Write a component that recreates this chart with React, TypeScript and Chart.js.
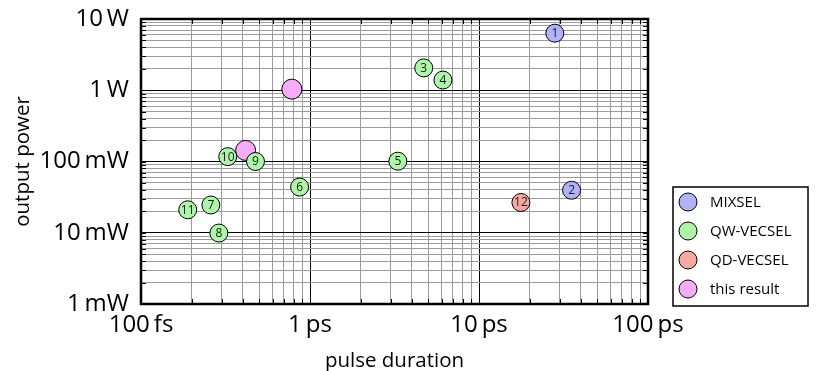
import React, { useEffect, useRef } from 'react';
import { Chart, registerables } from 'chart.js';

Chart.register(...registerables);

const FONT = '"Open Sans", "Noto Sans", sans-serif';

// Series names & colours
const seriesNames = ['MIXSEL', 'QW-VECSEL', 'QD-VECSEL', 'this result'];
const seriesColors = ['#b0b3f8', '#aef5a9', '#f5a9a2', '#f8acf8'];

// Data: pulse duration (ps) and output power (mW), with reference numbers
const mixselDurationPs = [28.1, 35.3];
const mixselPowerMw = [6320, 39.5];
const mixselRefs = ['1', '2'];

const qwDurationPs = [4.71, 6.12, 3.31, 0.868, 0.259, 0.289, 0.476, 0.326, 0.189];
const qwPowerMw = [2060, 1390, 101, 43.8, 24.5, 9.9, 100, 117, 21];
const qwRefs = ['3', '4', '5', '6', '7', '8', '9', '10', '11'];

const qdDurationPs = [17.7];
const qdPowerMw = [26.6];
const qdRefs = ['12'];

const thisDurationPs = [0.781, 0.416];
const thisPowerMw = [1036, 143];
const thisRefs = ['', ''];

// Axis ticks
const xTickValues = [0.1, 1, 10, 100];
const xTickLabels = ['100\u2009fs', '1\u2009ps', '10\u2009ps', '100\u2009ps'];
const yTickValues = [1, 10, 100, 1000, 10000];
const yTickLabels = ['1\u2009mW', '10\u2009mW', '100\u2009mW', '1\u2009W', '10\u2009W'];

const minorSteps = [1, 2, 3, 4, 5, 6, 7, 8, 9];

function logGrid(decades: number[]): number[] {
  const out: number[] = [];
  for (let i = 0; i < decades.length - 1; i++) {
    for (const k of minorSteps) out.push(Number((k * decades[i]).toPrecision(6)));
  }
  out.push(decades[decades.length - 1]);
  return out;
}

function findIdx(list: number[], v: number): number {
  return list.findIndex((t) => Math.abs(Math.log10(t) - Math.log10(v)) < 1e-6);
}

function pts(xs: number[], ys: number[]) {
  return xs.map((x, i) => ({ x, y: ys[i] }));
}

const decorPlugin = {
  id: 'decor',
  afterDatasetsDraw(chart: any) {
    const ctx = chart.ctx;
    ctx.save();
    ctx.font = `12px ${FONT}`;
    ctx.textAlign = 'center';
    ctx.textBaseline = 'middle';
    ctx.fillStyle = '#1c1c1c';
    chart.data.datasets.forEach((ds: any, i: number) => {
      const meta = chart.getDatasetMeta(i);
      meta.data.forEach((el: any, j: number) => {
        const r = ds.refs?.[j];
        if (r) ctx.fillText(r, el.x, el.y + 0.5);
      });
    });
    ctx.restore();
  },
  afterDraw(chart: any) {
    const { ctx, chartArea: a, scales } = chart;
    ctx.save();
    // inward tick marks
    ctx.strokeStyle = '#000';
    ctx.lineWidth = 1;
    const L = 5;
    ctx.beginPath();
    scales.x.ticks.forEach((t: any) => {
      const px = Math.round(scales.x.getPixelForValue(t.value)) + 0.5;
      ctx.moveTo(px, a.top);
      ctx.lineTo(px, a.top + L);
      ctx.moveTo(px, a.bottom);
      ctx.lineTo(px, a.bottom - L);
    });
    scales.y.ticks.forEach((t: any) => {
      const py = Math.round(scales.y.getPixelForValue(t.value)) + 0.5;
      ctx.moveTo(a.left, py);
      ctx.lineTo(a.left + L, py);
      ctx.moveTo(a.right, py);
      ctx.lineTo(a.right - L, py);
    });
    ctx.stroke();
    // frame
    ctx.lineWidth = 2.5;
    ctx.strokeRect(a.left, a.top, a.right - a.left, a.bottom - a.top);

    // legend box
    const bx = a.right + 25;
    const by = 187;
    const bw = 135;
    const bh = 119;
    ctx.lineWidth = 1.5;
    ctx.strokeRect(bx, by, bw, bh);
    ctx.font = `15px ${FONT}`;
    ctx.textAlign = 'left';
    ctx.textBaseline = 'middle';
    chart.data.datasets.forEach((ds: any, i: number) => {
      const cy = by + 15 + i * 29;
      ctx.beginPath();
      ctx.arc(bx + 15, cy, 9, 0, Math.PI * 2);
      ctx.fillStyle = ds.backgroundColor;
      ctx.fill();
      ctx.lineWidth = 1;
      ctx.strokeStyle = '#000';
      ctx.stroke();
      ctx.fillStyle = '#000';
      ctx.fillText(ds.label, bx + 37, cy + 0.5);
    });
    ctx.restore();
  },
};

export default function App() {
  const ref = useRef<HTMLCanvasElement>(null);

  useEffect(() => {
    if (!ref.current) return;
    const xs = logGrid(xTickValues);
    const ys = logGrid(yTickValues);
    const sets = [
      { d: pts(mixselDurationPs, mixselPowerMw), refs: mixselRefs, r: 9 },
      { d: pts(qwDurationPs, qwPowerMw), refs: qwRefs, r: 9 },
      { d: pts(qdDurationPs, qdPowerMw), refs: qdRefs, r: 9 },
      { d: pts(thisDurationPs, thisPowerMw), refs: thisRefs, r: 10 },
    ];
    const chart = new Chart(ref.current, {
      type: 'scatter',
      data: {
        datasets: sets.map((s, i) => ({
          label: seriesNames[i],
          data: s.d,
          refs: s.refs,
          backgroundColor: seriesColors[i],
          borderColor: '#000',
          borderWidth: 1,
          pointRadius: s.r,
          pointHoverRadius: s.r,
        })) as any,
      },
      options: {
        responsive: false,
        animation: false,
        events: [],
        layout: { padding: { left: 0, right: 170, top: 19, bottom: 0 } },
        plugins: {
          legend: { display: false },
          tooltip: { enabled: false },
        },
        scales: {
          x: {
            type: 'logarithmic',
            min: 0.1,
            max: 100,
            afterBuildTicks: (scale: any) => {
              scale.ticks = xs.map((v) => ({ value: v }));
            },
            afterFit: (scale: any) => {
              scale.height = 67;
            },
            grid: {
              drawTicks: false,
              color: (c: any) => (findIdx(xTickValues, c.tick?.value ?? 1) >= 0 ? '#000' : '#9c9c9c'),
              lineWidth: 1,
            },
            border: { display: false },
            ticks: {
              autoSkip: false,
              maxRotation: 0,
              minRotation: 0,
              padding: 7,
              color: '#000',
              font: { family: FONT, size: 24 },
              callback: (v: any) => {
                const i = findIdx(xTickValues, Number(v));
                return i >= 0 ? xTickLabels[i] : '';
              },
            },
            title: {
              display: true,
              text: 'pulse duration',
              color: '#000',
              font: { family: FONT, size: 20.5, lineHeight: 1 },
              padding: { top: 0, bottom: 0 },
            },
          },
          y: {
            type: 'logarithmic',
            min: 1,
            max: 10000,
            afterBuildTicks: (scale: any) => {
              scale.ticks = ys.map((v) => ({ value: v }));
            },
            afterFit: (scale: any) => {
              scale.width = 141;
              scale.paddingTop = 0;
              scale.paddingBottom = 0;
            },
            grid: {
              drawTicks: false,
              color: (c: any) => (findIdx(yTickValues, c.tick?.value ?? 2) >= 0 ? '#000' : '#9c9c9c'),
              lineWidth: 1,
            },
            border: { display: false },
            ticks: {
              autoSkip: false,
              padding: 12,
              color: '#000',
              font: { family: FONT, size: 24 },
              callback: (v: any) => {
                const i = findIdx(yTickValues, Number(v));
                return i >= 0 ? yTickLabels[i] : '';
              },
            },
            title: {
              display: true,
              text: 'output power',
              color: '#000',
              font: { family: FONT, size: 20.5, lineHeight: 1 },
              padding: { top: 13, bottom: 0 },
            },
          },
        },
      },
      plugins: [decorPlugin],
    });
    return () => chart.destroy();
  }, []);

  return (
    <div style={{ position: 'fixed', left: 0, top: 0, width: 818, height: 371, background: '#fff' }}>
      <canvas ref={ref} width={818} height={371} style={{ display: 'block' }} />
    </div>
  );
}
